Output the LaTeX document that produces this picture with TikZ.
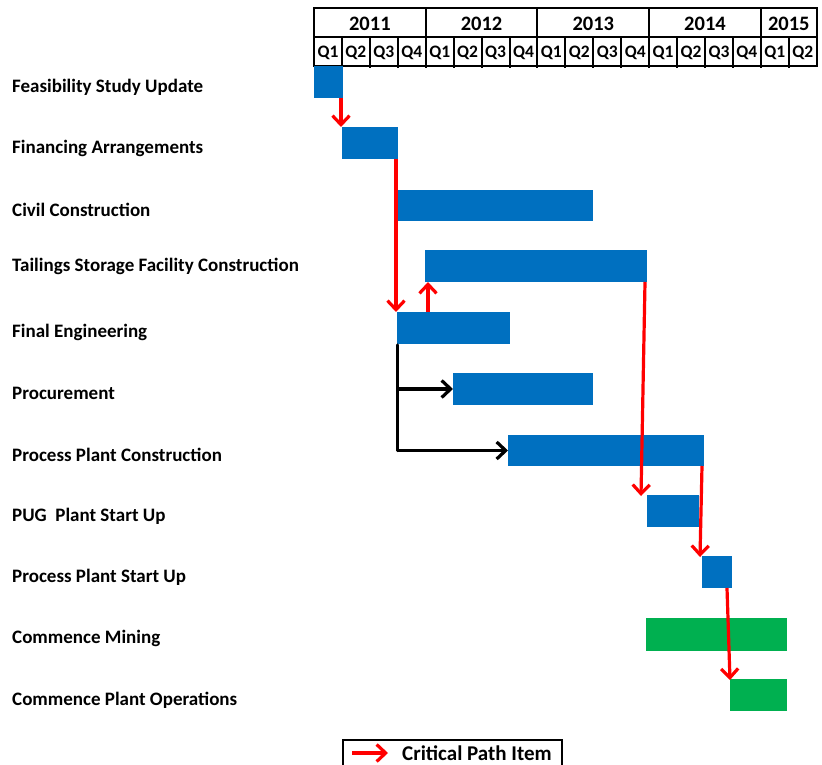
\documentclass[tikz,border=0pt]{standalone}
\usepackage{fontspec}
\setmainfont{Carlito}
\usetikzlibrary{arrows.meta,calc}
\definecolor{barblue}{HTML}{0070C0}
\definecolor{bargreen}{HTML}{00B050}
\definecolor{critred}{HTML}{FF0000}
\begin{document}
\begin{tikzpicture}[x=1pt,y=-1pt,
  bar/.style={rectangle,inner sep=0pt,outer sep=0pt,anchor=north west,fill=barblue},
  gbar/.style={bar,fill=bargreen},
  lbl/.style={anchor=west,inner sep=0pt,font=\fontsize{19}{21}\selectfont\bfseries},
  hdr/.style={inner sep=0pt,font=\fontsize{20.5}{22}\selectfont\bfseries},
  qtxt/.style={inner sep=0pt,font=\fontsize{17.5}{19}\selectfont\bfseries},
  crit/.style={draw=critred,line width=3.2pt,-{Straight Barb[length=9pt,width=17pt]}},
  dep/.style={draw=black,line width=3.2pt,-{Straight Barb[length=9pt,width=17pt]}},
  grid/.style={draw=black,line width=2pt}]
\useasboundingbox (0,0) rectangle (822,765);
\fill[white] (0,0) rectangle (822,765);
% header grid
\def\qw{27.93}
\draw[grid] (314,8) rectangle (816.7,66);
\draw[grid] (314,37) -- (816.7,37);
\foreach \k in {1,...,17}{
  \draw[grid] ({314+\qw*\k},37) -- ({314+\qw*\k},68);
}
\foreach \k in {4,8,12,16}{
  \draw[grid] ({314+\qw*\k},8) -- ({314+\qw*\k},37);
}
\foreach \y/\a/\b in {2011/0/4,2012/4/8,2013/8/12,2014/12/16,2015/16/18}{
  \node[hdr] (y\y) at ({314+\qw*(\a+\b)/2},23.5) {\y};
}
\foreach \k in {0,...,17}{
  \pgfmathtruncatemacro{\q}{mod(\k,4)+1}
  \node[qtxt] (q\k) at ({314+\qw*(\k+0.5)},52.5) {Q\q};
}
% labels
\node[lbl] (l1) at (12,87) {Feasibility Study Update};
\node[lbl] (l2) at (12,148) {Financing Arrangements};
\node[lbl] (l3) at (12,210) {Civil Construction};
\node[lbl] (l4) at (12,266) {Tailings Storage Facility Construction};
\node[lbl] (l5) at (12,332) {Final Engineering};
\node[lbl] (l6) at (12,393) {Procurement};
\node[lbl] (l7) at (12,455) {Process Plant Construction};
\node[lbl] (l8) at (12,516) {PUG\ \ Plant Start Up};
\node[lbl] (l9) at (12,577) {Process Plant Start Up};
\node[lbl] (l10) at (12,638) {Commence Mining};
\node[lbl] (l11) at (12,700) {Commence Plant Operations};
% bars
\node[bar,minimum width=29pt,minimum height=32pt] (fsu) at (314,66) {};
\node[bar,minimum width=56pt,minimum height=32pt] (fin) at (342,127) {};
\node[bar,minimum width=195pt,minimum height=31pt] (civ) at (398,190) {};
\node[bar,minimum width=222pt,minimum height=32pt] (tsf) at (425,250) {};
\node[bar,minimum width=113pt,minimum height=32pt] (fe) at (397,312) {};
\node[bar,minimum width=140pt,minimum height=32pt] (proc) at (453,373) {};
\node[bar,minimum width=196pt,minimum height=31pt] (ppc) at (508,435) {};
\node[bar,minimum width=52pt,minimum height=32pt] (pug) at (647,495) {};
\node[bar,minimum width=30pt,minimum height=32pt] (ppsu) at (702,556) {};
\node[gbar,minimum width=141pt,minimum height=33pt] (cm) at (646,618) {};
\node[gbar,minimum width=57pt,minimum height=32pt] (cpo) at (730,679) {};
% dependencies (black)
\coordinate (fe0) at ([xshift=0.5pt,yshift=-1pt]fe.south west);
\coordinate (j1) at (fe0 |- proc.west);
\coordinate (j2) at (fe0 |- ppc.west);
\draw[draw=black,line width=3.2pt,line cap=round] (fe0) -- (j2);
\draw[dep] (j1) -- (proc.west);
\draw[dep] (j2) -- (ppc.west);
% critical path (red)
\draw[crit] ([xshift=-2pt]fsu.south east) -- ([xshift=-1pt]fin.north west);
\draw[crit] ([xshift=-2pt]fin.south east) -- ([xshift=-1pt]fe.north west);
\draw[crit] ([xshift=31pt]fe.north west) -- ([xshift=3pt]tsf.south west);
\draw[crit] ([xshift=-2pt]tsf.south east) -- ([xshift=-6pt,yshift=-1pt]pug.north west);
\draw[crit] ([xshift=-2pt]ppc.south east) -- ([xshift=-2pt,yshift=-1pt]ppsu.north west);
\draw[crit] ([xshift=-5pt]ppsu.south east) -- ([yshift=-1pt]cpo.north west);
% legend
\draw[line width=2.5pt] (343,780) |- (562,740) -- (562,780);
\coordinate (la) at (352,753);
\coordinate (lb) at (388,753);
\draw[crit] (la) -- (lb);
\node[lbl,font=\fontsize{21}{23}\selectfont\bfseries] (leg) at (402,753.5) {Critical Path Item};
\end{tikzpicture}
\end{document}
